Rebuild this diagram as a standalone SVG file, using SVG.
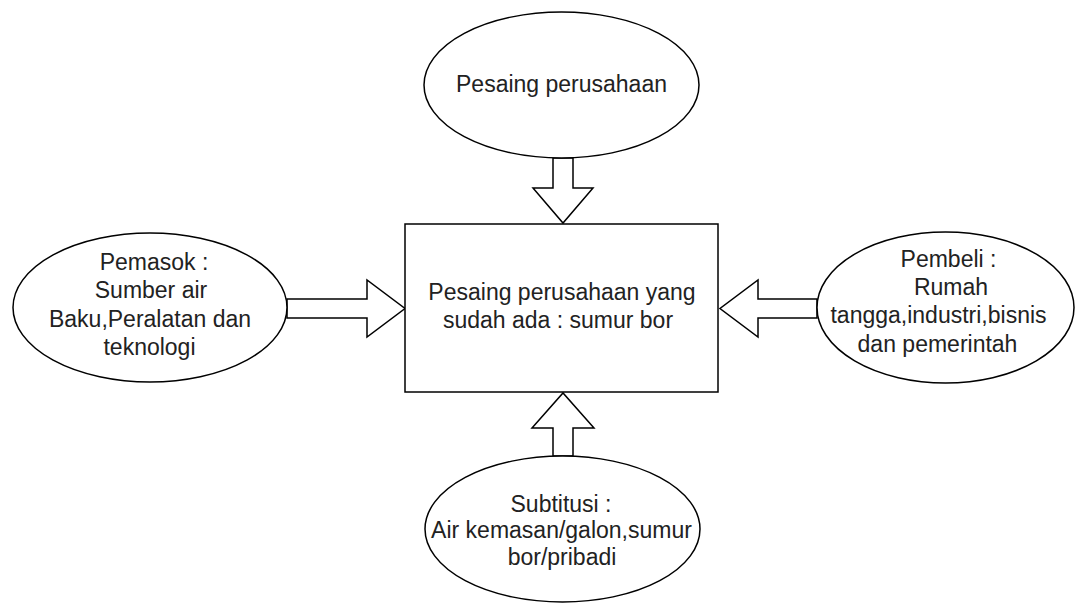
<svg xmlns="http://www.w3.org/2000/svg" width="1076" height="603" viewBox="0 0 1076 603">
<style>
.shape{fill:#ffffff;stroke:#000000;stroke-width:1.5}
.arrow{fill:#ffffff;stroke:#000000;stroke-width:1.5;stroke-linejoin:miter}
text{font-family:"Liberation Sans",Arial,sans-serif;font-size:23px;fill:#222222;text-anchor:middle}
</style>
<rect width="1076" height="603" fill="#ffffff"/>
<g id="connectors">
<path class="arrow" d="M553,158 L553,188 L533,188 L563,223 L593,188 L573,188 L573,158 Z"/>
<path class="arrow" d="M287,299 L367,299 L367,280 L405,308.5 L367,337 L367,318 L287,318 Z"/>
<path class="arrow" d="M817,299 L758,299 L758,280 L720,308.5 L758,337 L758,318 L817,318 Z"/>
<path class="arrow" d="M553,456 L553,428 L532,428 L563,393 L594,428 L573,428 L573,456 Z"/>
</g>
<g id="top">
<ellipse class="shape" cx="561.5" cy="85" rx="137.5" ry="73"/>
<text x="561.5" y="92">Pesaing perusahaan</text>
</g>
<g id="center">
<rect class="shape" x="405" y="224" width="313" height="168"/>
<text x="562" y="300">Pesaing perusahaan yang</text>
<text x="558" y="328">sudah ada : sumur bor</text>
</g>
<g id="left">
<ellipse class="shape" cx="150" cy="307.5" rx="137" ry="74.5"/>
<text x="154" y="270">Pemasok :</text>
<text x="151" y="298">Sumber air</text>
<text x="150" y="327">Baku,Peralatan dan</text>
<text x="149.5" y="355">teknologi</text>
</g>
<g id="right">
<ellipse class="shape" cx="945.5" cy="307.5" rx="128.5" ry="75.5"/>
<text x="948.5" y="267">Pembeli :</text>
<text x="951" y="295">Rumah</text>
<text x="938.5" y="323">tangga,industri,bisnis</text>
<text x="937.5" y="352">dan pemerintah</text>
</g>
<g id="bottom">
<ellipse class="shape" cx="562.5" cy="529" rx="137.5" ry="73"/>
<text x="561" y="512">Subtitusi :</text>
<text x="561.5" y="538">Air kemasan/galon,sumur</text>
<text x="562" y="565">bor/pribadi</text>
</g>
</svg>
